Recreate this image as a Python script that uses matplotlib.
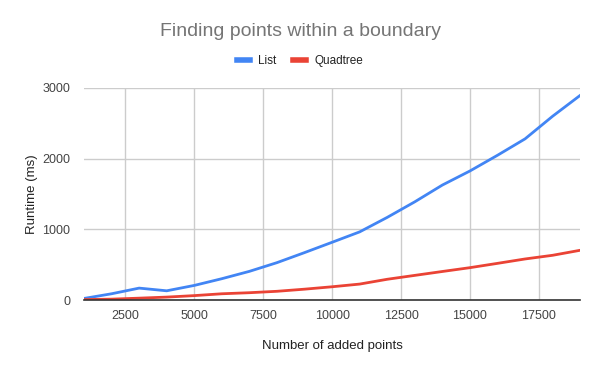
import matplotlib
matplotlib.use("Agg")
import matplotlib.pyplot as plt
from matplotlib.ticker import FixedLocator
from matplotlib.lines import Line2D

# data
points = [1000, 2000, 3000, 4000, 5000, 6000, 7000, 8000, 9000, 10000,
          11000, 12000, 13000, 14000, 15000, 16000, 17000, 18000, 19000]
list_ms = [24, 90, 170, 132, 208, 303, 407, 530, 672, 818,
           965, 1170, 1390, 1627, 1826, 2048, 2280, 2600, 2895]
quadtree_ms = [8, 14, 28, 43, 64, 90, 105, 125, 155, 189,
               227, 295, 350, 405, 459, 520, 582, 634, 705]

series_names = ['List', 'Quadtree']
series_colors = ['#4285f4', '#ea4335']
x_ticks = [2500, 5000, 7500, 10000, 12500, 15000, 17500]
y_ticks = [0, 1000, 2000, 3000]

plt.rcParams['font.family'] = ['Liberation Sans', 'DejaVu Sans']

fig = plt.figure(figsize=(6, 3.71), dpi=100)
ax = fig.add_axes([0.14, 0.191, 0.827, 0.572])

for vals, name, col in zip([list_ms, quadtree_ms], series_names, series_colors):
    ax.plot(points, vals, color=col, lw=2, label=name)

ax.set_xlim(1000, 19000)
ax.set_ylim(0, 3000)
ax.xaxis.set_major_locator(FixedLocator(x_ticks))
ax.yaxis.set_major_locator(FixedLocator(y_ticks))
ax.grid(True, color='#cccccc', lw=1)
ax.set_axisbelow(True)
for side in ['top', 'right', 'left']:
    ax.spines[side].set_visible(False)
ax.spines['bottom'].set_color('#333333')
ax.spines['bottom'].set_linewidth(1.2)
ax.tick_params(length=0, labelsize=9, colors='#444444', pad=7)
ax.tick_params(axis='y', pad=10)

ax.set_xlabel('Number of added points', fontsize=9.5, color='#222222', labelpad=13)
ax.set_ylabel('Runtime (ms)', fontsize=9.5, color='#222222', labelpad=3)

fig.text(0.5, 0.914, 'Finding points within a boundary', ha='center', va='center',
         fontsize=14, color='#757575')
handles = [Line2D([], [], color=c, lw=4) for c in series_colors]
fig.legend(handles, series_names, loc='center', bbox_to_anchor=(0.5, 0.835), ncol=2,
           frameon=False, fontsize=8.5, handlelength=1.1, handletextpad=0.7,
           columnspacing=1.4, labelcolor='#222222')

fig.savefig('out.png', dpi=100)
